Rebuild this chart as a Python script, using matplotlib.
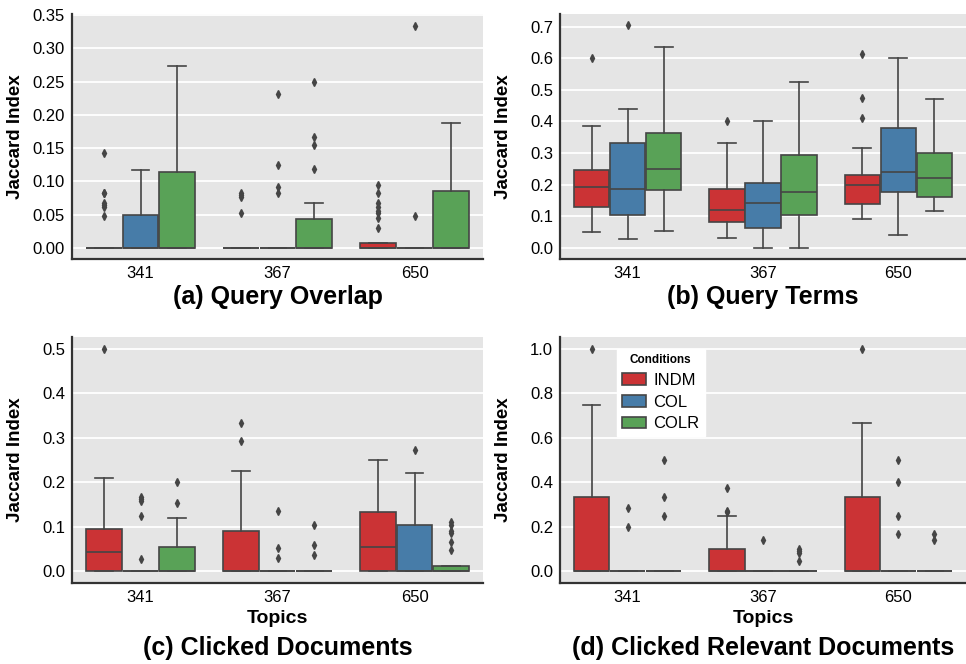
import matplotlib
matplotlib.use('Agg')
import matplotlib.pyplot as plt
from matplotlib.patches import Patch

plt.rcParams['font.family'] = ['Liberation Sans', 'DejaVu Sans']

topics = ['341', '367', '650']
conditions = ['INDM', 'COL', 'COLR']

# box stats per box, order: topic 341 (INDM, COL, COLR), 367 (...), 650 (...)
# (whisker low, q1, median, q3, whisker high)
overlap_boxes = [
    (0, 0, 0, 0, 0), (0, 0, 0, 0.05, 0.117), (0, 0, 0, 0.114, 0.273),
    (0, 0, 0, 0, 0), (0, 0, 0, 0, 0), (0, 0, 0, 0.043, 0.067),
    (0, 0, 0, 0.008, 0.008), (0, 0, 0, 0, 0), (0, 0, 0, 0.085, 0.188),
]
overlap_fliers = [
    [0.143, 0.083, 0.082, 0.067, 0.065, 0.062, 0.048], [], [],
    [0.083, 0.080, 0.077, 0.053], [0.231, 0.125, 0.091, 0.083], [0.25, 0.167, 0.154, 0.118],
    [0.095, 0.083, 0.067, 0.062, 0.056, 0.053, 0.045, 0.03], [0.333, 0.048], [],
]

terms_boxes = [
    (0.05, 0.128, 0.192, 0.245, 0.385), (0.027, 0.105, 0.187, 0.333, 0.438), (0.053, 0.182, 0.25, 0.364, 0.636),
    (0.03, 0.083, 0.12, 0.188, 0.333), (0, 0.063, 0.143, 0.205, 0.4), (0, 0.103, 0.178, 0.293, 0.524),
    (0.091, 0.14, 0.2, 0.232, 0.316), (0.04, 0.176, 0.24, 0.379, 0.6), (0.118, 0.161, 0.22, 0.3, 0.471),
]
terms_fliers = [
    [0.6], [0.706], [],
    [0.4], [], [],
    [0.615, 0.474, 0.41], [], [],
]

clicked_boxes = [
    (0, 0, 0.043, 0.095, 0.211), (0, 0, 0, 0, 0), (0, 0, 0, 0.054, 0.12),
    (0, 0, 0, 0.091, 0.225), (0, 0, 0, 0, 0), (0, 0, 0, 0, 0),
    (0, 0, 0.056, 0.133, 0.25), (0, 0, 0, 0.105, 0.222), (0, 0, 0, 0.012, 0.012),
]
clicked_fliers = [
    [0.5], [0.167, 0.163, 0.158, 0.125, 0.028], [0.2, 0.154],
    [0.333, 0.294], [0.136, 0.053, 0.03], [0.105, 0.059, 0.037],
    [], [0.273], [0.111, 0.105, 0.091, 0.087, 0.067, 0.048],
]

relevant_boxes = [
    (0, 0, 0, 0.333, 0.75), (0, 0, 0, 0, 0), (0, 0, 0, 0, 0),
    (0, 0, 0, 0.1, 0.25), (0, 0, 0, 0, 0), (0, 0, 0, 0, 0),
    (0, 0, 0, 0.333, 0.667), (0, 0, 0, 0, 0), (0, 0, 0, 0, 0),
]
relevant_fliers = [
    [1.0], [0.286, 0.2], [0.5, 0.333, 0.25],
    [0.375, 0.273, 0.267], [0.143], [0.1, 0.091, 0.083, 0.045],
    [1.0], [0.5, 0.4, 0.25, 0.167], [0.167, 0.143],
]

colors = ['#cb3335', '#477ca8', '#59a257']
edge = '#454545'
W, H = 966, 664

fig = plt.figure(figsize=(W / 100, H / 100), dpi=100)


def make_axes(l, t, r, b):
    return fig.add_axes([l / W, 1 - b / H, (r - l) / W, (b - t) / H])


def draw(ax, boxes, fliers, ylim, yticks, fmt):
    ax.set_facecolor('#e5e5e5')
    width = 0.8 / 3
    stats, pos = [], []
    for k, (lo, q1, med, q3, hi) in enumerate(boxes):
        i, j = divmod(k, 3)
        stats.append(dict(whislo=lo, q1=q1, med=med, q3=q3, whishi=hi, fliers=fliers[k]))
        pos.append(i + (j - 1) * width)
    bp = ax.bxp(stats, positions=pos, widths=width * 0.98, capwidths=width * 0.49,
                patch_artist=True,
                boxprops=dict(edgecolor=edge, linewidth=1.2),
                medianprops=dict(color=edge, linewidth=1.2),
                whiskerprops=dict(color=edge, linewidth=1.2),
                capprops=dict(color=edge, linewidth=1.2),
                flierprops=dict(marker='d', markerfacecolor=edge, markeredgecolor=edge,
                                markersize=4, linestyle='none'))
    for k, patch in enumerate(bp['boxes']):
        patch.set_facecolor(colors[k % 3])
    ax.set_xlim(-0.5, 2.5)
    ax.set_ylim(*ylim)
    ax.set_xticks(range(3))
    ax.set_xticklabels(topics)
    ax.set_yticks(yticks)
    ax.set_yticklabels([fmt.format(v) for v in yticks])
    ax.tick_params(length=0, labelsize=12, pad=5)
    ax.yaxis.grid(True, color='white', linewidth=1.3)
    ax.xaxis.grid(False)
    ax.set_axisbelow(True)
    for s in ['top', 'right']:
        ax.spines[s].set_visible(False)
    for s in ['left', 'bottom']:
        ax.spines[s].set_color('#333333')
        ax.spines[s].set_linewidth(1.6)
    ax.set_ylabel('Jaccard Index', fontsize=13.5, fontweight='bold')
    ax.yaxis.set_label_coords(-0.117, 0.5)


def caption(ax, text, offset):
    ax.annotate(text, xy=(0.5, 0), xycoords='axes fraction', xytext=(0, -offset * 0.72),
                textcoords='offset points', ha='center', va='center',
                fontsize=18, fontweight='bold')


ax_a = make_axes(72, 14, 483, 259)
ax_b = make_axes(560, 14, 966, 259)
ax_c = make_axes(72, 337, 483, 583)
ax_d = make_axes(560, 337, 966, 583)

draw(ax_a, overlap_boxes, overlap_fliers, (-0.0166, 0.3515),
     [0, 0.05, 0.1, 0.15, 0.2, 0.25, 0.3, 0.35], '{:.2f}')
draw(ax_b, terms_boxes, terms_fliers, (-0.035, 0.74),
     [0, 0.1, 0.2, 0.3, 0.4, 0.5, 0.6, 0.7], '{:.1f}')
draw(ax_c, clicked_boxes, clicked_fliers, (-0.026, 0.527),
     [0, 0.1, 0.2, 0.3, 0.4, 0.5], '{:.1f}')
draw(ax_d, relevant_boxes, relevant_fliers, (-0.052, 1.054),
     [0, 0.2, 0.4, 0.6, 0.8, 1.0], '{:.1f}')

for ax in (ax_c, ax_d):
    ax.set_xlabel('Topics', fontsize=14, fontweight='bold')
    ax.xaxis.set_label_coords(0.5, -0.11)

caption(ax_a, '(a) Query Overlap', 38)
caption(ax_b, '(b) Query Terms', 38)
caption(ax_c, '(c) Clicked Documents', 65)
caption(ax_d, '(d) Clicked Relevant Documents', 65)

handles = [Patch(facecolor=c, edgecolor=edge, linewidth=1.2, label=n)
           for c, n in zip(colors, conditions)]
ax_d.legend(handles=handles, title='Conditions', loc='upper left',
            bbox_to_anchor=(0.14, 0.95), borderaxespad=0, frameon=True,
            fancybox=False, edgecolor='white', framealpha=1, fontsize=12,
            title_fontproperties={'weight': 'bold', 'size': 8.5},
            handlelength=1.45, handleheight=0.7, handletextpad=0.45,
            borderpad=0.3, labelspacing=0.4)

fig.savefig('out.png', dpi=100)
